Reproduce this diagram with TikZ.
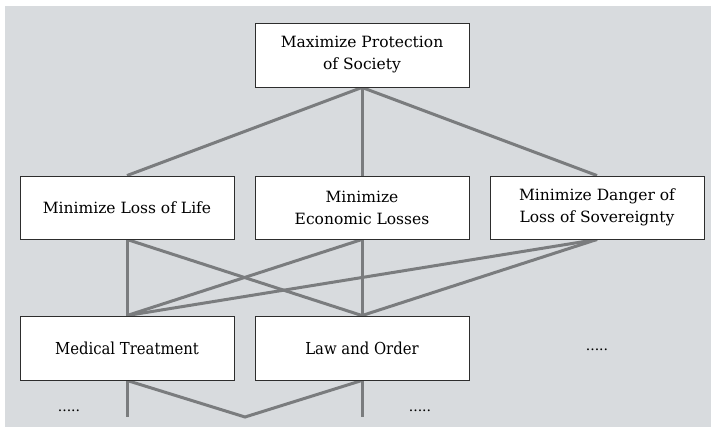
\documentclass[tikz,border=0pt]{standalone}
\usepackage{fontspec}
\setmainfont{DejaVu Serif}
\newfontfamily\condfont{DejaVu Serif Condensed}
\pgfdeclarelayer{bg}
\pgfdeclarelayer{lines}
\pgfsetlayers{bg,lines,main}
\definecolor{panel}{RGB}{216,219,222}
\definecolor{wire}{RGB}{122,124,126}
\definecolor{edge}{RGB}{45,45,45}
\tikzset{
  goalbox/.style={draw=edge, line width=0.9pt, fill=white, minimum width=214pt, minimum height=64pt,
    inner sep=0pt, align=center, font=\fontsize{15.5}{22}\selectfont},
  leafbox/.style={goalbox, font=\condfont\fontsize{16.5}{22}\selectfont},
  link/.style={draw=wire, line width=3pt},
  dots/.style={inner sep=0pt, font=\fontsize{14}{16}\selectfont}
}
\begin{document}
\begin{tikzpicture}[x=1pt,y=-1pt]
\useasboundingbox (0,0) rectangle (711,428);
\begin{pgfonlayer}{bg}
\fill[panel] (5,6) rectangle (711,427);
\end{pgfonlayer}
\node[goalbox] (top) at (362,55) {Maximize Protection\\of Society};
\node[goalbox, minimum height=63pt] (life) at (127,207.5) {Minimize Loss of Life};
\node[goalbox, minimum height=63pt] (econ) at (362,207.5) {Minimize\\Economic Losses};
\node[goalbox, minimum height=63pt] (sov) at (597,207.5) {Minimize Danger of\\Loss of Sovereignty};
\node[leafbox] (med) at (127,348) {Medical Treatment};
\node[leafbox] (law) at (362,348) {Law and Order};
\node[dots] (d1) at (597,350) {.....};
\node[dots] (d2) at (69,411) {.....};
\node[dots] (d3) at (420,411) {.....};
\coordinate (vmed) at (127,417);
\coordinate (vlaw) at (362,417);
\coordinate (vtip) at (245,417);
\begin{pgfonlayer}{lines}
\draw[link] (top.south) -- (life.north);
\draw[link] (top.south) -- (econ.north);
\draw[link] (top.south) -- (sov.north);
\draw[link] (life.south) -- (med.north);
\draw[link] (life.south) -- (law.north);
\draw[link] (econ.south) -- (med.north);
\draw[link] (econ.south) -- (law.north);
\draw[link] (sov.south) -- (med.north);
\draw[link] (sov.south) -- (law.north);
\draw[link] (med.south) -- (vmed);
\draw[link] (law.south) -- (vlaw);
\draw[link] (med.south) -- (vtip) -- (law.south);
\end{pgfonlayer}
\end{tikzpicture}
\end{document}
